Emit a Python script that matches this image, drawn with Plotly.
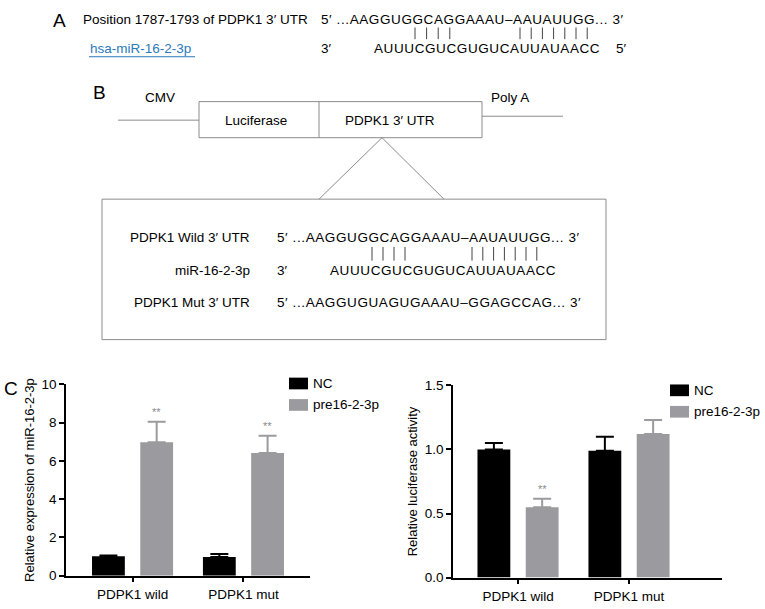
import plotly.graph_objects as go

W, H = 765, 609

# bar chart data
groups = ["PDPK1 wild", "PDPK1 mut"]
series = ["NC", "pre16-2-3p"]
colors = ["#000000", "#9b9b9f"]

expr_nc = [1.02, 0.97]
expr_nc_err = [0.03, 0.16]
expr_pre = [6.98, 6.42]
expr_pre_err = [1.07, 0.90]
expr_sig = ["**", "**"]
expr_ticks = [0, 2, 4, 6, 8, 10]

luc_nc = [1.00, 0.99]
luc_nc_err = [0.05, 0.11]
luc_pre = [0.55, 1.12]
luc_pre_err = [0.065, 0.11]
luc_sig = ["**", ""]
luc_ticks = [0.0, 0.5, 1.0, 1.5]

FONT = "Arial, Liberation Sans, Helvetica, sans-serif"
FS = 13.5
BARGAP = 0.13


def px(x):
    return x / W


def py(y):
    return 1 - y / H


def ann(text, x, y, xanchor="left", size=FS, color="black"):
    return dict(text=text, x=px(x), y=py(y), xref="paper", yref="paper",
                xanchor=xanchor, yanchor="middle", showarrow=False,
                font=dict(family=FONT, size=size, color=color))


def seq(text):
    # the sequences are set a little looser than the labels
    return '<span style="letter-spacing:0.6px">' + text + "</span>"


def seg(x0, y0, x1, y1, color="#8c8c8c", width=1):
    return dict(type="line", xref="paper", yref="paper",
                x0=px(x0), y0=py(y0), x1=px(x1), y1=py(y1),
                line=dict(color=color, width=width))


def rect(x0, y0, x1, y1, color="#8c8c8c", fill="rgba(0,0,0,0)", width=1):
    return dict(type="rect", xref="paper", yref="paper",
                x0=px(x0), y0=py(y0), x1=px(x1), y1=py(y1),
                line=dict(color=color, width=width), fillcolor=fill)


def pair_bars(fig, vals, errs, name, color, xa, ya):
    fig.add_trace(go.Bar(
        x=groups, y=vals, name=name, marker_color=color, marker_line_width=0,
        error_y=dict(type="data", array=errs, arrayminus=[0] * len(errs),
                     symmetric=False, color=color, thickness=2, width=9),
        xaxis=xa, yaxis=ya, showlegend=False))


fig = go.Figure()
pair_bars(fig, expr_nc, expr_nc_err, series[0], colors[0], "x", "y")
pair_bars(fig, expr_pre, expr_pre_err, series[1], colors[1], "x", "y")
pair_bars(fig, luc_nc, luc_nc_err, series[0], colors[0], "x2", "y2")
pair_bars(fig, luc_pre, luc_pre_err, series[1], colors[1], "x2", "y2")

annotations = []
shapes = []

# panel A
annotations.append(ann("A", 59, 14, "center", size=19))
annotations.append(ann("Position 1787-1793 of PDPK1 3\u2032 UTR", 81, 13))
annotations.append(ann(seq("5\u2032 ...AAGGUGGCAGGAAAU\u2013AAUAUUGG... 3\u2032"), 319, 13))
annotations.append(ann("hsa-miR-16-2-3p", 88, 43, color="#2a7ab9"))
shapes.append(seg(89, 51, 195, 51, color="#2a7ab9", width=1))
annotations.append(ann("3\u2032", 319, 43))
annotations.append(ann(seq("AUUUCGUCGUGUCAUUAUAACC"), 372, 43))
annotations.append(ann("5\u2032", 614, 43))
for i in range(4):
    shapes.append(seg(415 + i * 11.6, 21, 415 + i * 11.6, 33, color="#444444"))
for i in range(7):
    shapes.append(seg(520 + i * 11.2, 21, 520 + i * 11.2, 33, color="#444444"))

# panel B construct
annotations.append(ann("B", 99, 88, "center", size=19))
annotations.append(ann("CMV", 160, 93, "center"))
annotations.append(ann("Poly A", 510, 93, "center"))
shapes.append(seg(118, 116, 199, 116))
shapes.append(seg(482, 112, 563, 112))
shapes.append(rect(199, 97, 482, 134))
shapes.append(seg(319, 97, 319, 134))
annotations.append(ann("Luciferase", 256, 116, "center"))
annotations.append(ann("PDPK1 3\u2032 UTR", 390, 116, "center"))
shapes.append(seg(382, 134, 319, 197))
shapes.append(seg(382, 134, 444, 197))
shapes.append(rect(102, 197, 606, 341))
annotations.append(ann("PDPK1 Wild 3\u2032 UTR", 252, 236, "right"))
annotations.append(ann(seq("5\u2032 ...AAGGUGGCAGGAAAU\u2013AAUAUUGG... 3\u2032"), 275, 236))
annotations.append(ann("miR-16-2-3p", 252, 270, "right"))
annotations.append(ann("3\u2032", 275, 270))
annotations.append(ann(seq("AUUUCGUCGUGUCAUUAUAACC"), 328, 270))
annotations.append(ann("PDPK1 Mut 3\u2032 UTR", 252, 303, "right"))
annotations.append(ann(seq("5\u2032 ...AAGGUGUAGUGAAAU\u2013GGAGCCAG... 3\u2032"), 275, 303))
for i in range(4):
    shapes.append(seg(372 + i * 11, 246, 372 + i * 11, 260, color="#444444"))
for i in range(7):
    shapes.append(seg(472 + i * 10.8, 246, 472 + i * 10.8, 260, color="#444444"))

# panel C
annotations.append(ann("C", 11, 391, "center", size=19))

# hand drawn legends, as in the figure
for lx, ly in [(289, 386), (670, 393)]:
    for k, (name, col) in enumerate(zip(series, colors)):
        yy = ly + k * 22
        shapes.append(rect(lx, yy - 6, lx + 19, yy + 6, color=col, fill=col, width=0))
        annotations.append(ann(name, lx + 22, yy))

# significance stars above the pre16-2-3p bars
off = (1 - BARGAP) / 4
for i, s in enumerate(expr_sig):
    if s:
        annotations.append(dict(text=s, x=i + off, y=expr_pre[i] + expr_pre_err[i],
                                xref="x", yref="y", yanchor="bottom", yshift=2,
                                showarrow=False,
                                font=dict(family=FONT, size=11, color="#8a8a8a")))
for i, s in enumerate(luc_sig):
    if s:
        annotations.append(dict(text=s, x=i + off, y=luc_pre[i] + luc_pre_err[i],
                                xref="x2", yref="y2", yanchor="bottom", yshift=2,
                                showarrow=False,
                                font=dict(family=FONT, size=11, color="#8a8a8a")))

axis_style = dict(showline=True, linecolor="black", linewidth=1.5, ticks="outside",
                  ticklen=5, tickwidth=1.5, tickcolor="black", showgrid=False,
                  zeroline=False, tickfont=dict(family=FONT, size=FS, color="black"))

fig.update_layout(
    width=W, height=H,
    margin=dict(l=0, r=0, t=0, b=0),
    paper_bgcolor="white", plot_bgcolor="white",
    font=dict(family=FONT, size=FS, color="black"),
    barmode="group", bargap=BARGAP, bargroupgap=0.32,
    showlegend=False,
    xaxis=dict(domain=[px(66), px(310)], anchor="y", range=[-0.6, 1.6], **axis_style),
    yaxis=dict(domain=[py(583), py(387)], anchor="x", range=[0, 10],
               tickvals=expr_ticks,
               title=dict(text="Relative expression of miR-16-2-3p", standoff=4,
                          font=dict(family=FONT, size=13, color="black")),
               **axis_style),
    xaxis2=dict(domain=[px(453), px(722)], anchor="y2", range=[-0.586, 1.838], **axis_style),
    yaxis2=dict(domain=[py(585), py(388)], anchor="x2", range=[0, 1.5],
                tickvals=luc_ticks, tickformat=".1f",
                title=dict(text="Relative luciferase activity", standoff=4,
                           font=dict(family=FONT, size=13, color="black")),
                **axis_style),
    annotations=annotations,
    shapes=shapes,
)

fig.write_html("out.html", config={"displayModeBar": False},
               post_script="document.body.style.margin='0';")
